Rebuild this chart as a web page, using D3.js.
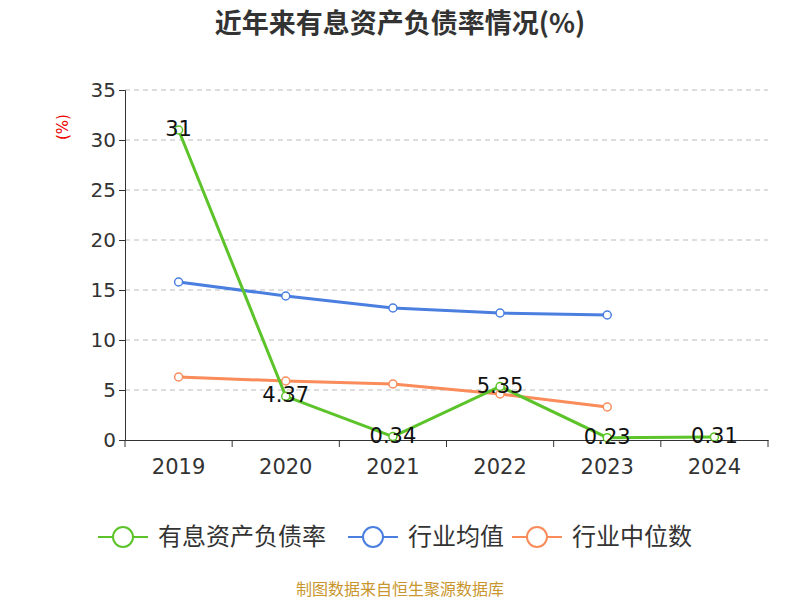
<!DOCTYPE html><html><head><meta charset="utf-8"><script src="https://cdn.jsdelivr.net/npm/d3@7"></script>
<style>body{margin:0;background:#fff}text{font-family:"DejaVu Sans","Noto Sans CJK SC",sans-serif}.cjk{font-family:"Noto Sans CJK SC",sans-serif}</style></head><body>
<svg id="c" width="800" height="600"></svg>
<script>
const categories=["2019","2020","2021","2022","2023","2024"];
const debtRatio=[31,4.37,0.34,5.35,0.23,0.31];
const industryAvg=[15.8,14.4,13.2,12.7,12.5];
const industryMedian=[6.3,5.9,5.6,4.6,3.3];
const yTicks=[0,5,10,15,20,25,30,35];
const svg=d3.select("#c");
const x=d3.scaleBand().domain(categories).range([125,768]);
const y=d3.scaleLinear().domain([0,35]).range([440,90]);
const cx=d=>x(d)+x.bandwidth()/2;
svg.append("text").attr("class","cjk").attr("x",400).attr("y",33).attr("text-anchor","middle").attr("font-size",27).attr("font-weight","bold").attr("fill","#333").text("近年来有息资产负债率情况(%)");
svg.append("text").attr("transform","translate(68,127) rotate(-90)").attr("text-anchor","middle").attr("font-size",15).attr("fill","#e00").text("(%)");
yTicks.forEach(t=>{if(t>0)svg.append("line").attr("x1",125).attr("x2",768).attr("y1",y(t)).attr("y2",y(t)).attr("stroke","#bbb").attr("stroke-dasharray","5,4");});
const ya=svg.append("g").attr("transform","translate(125,0)").call(d3.axisLeft(y).tickValues(yTicks).tickSize(6));
ya.selectAll("text").attr("font-size",20).attr("fill","#333").attr("font-family","DejaVu Sans");ya.select(".domain").attr("stroke","#333");ya.selectAll("line").attr("stroke","#333");
const xa=svg.append("g").attr("transform","translate(0,440)").call(d3.axisBottom(x).tickValues([]).tickSizeOuter(0));
xa.select(".domain").attr("stroke","#333");
categories.concat(["end"]).forEach((c,i)=>{const px=125+i*x.bandwidth();svg.append("line").attr("x1",px).attr("x2",px).attr("y1",440).attr("y2",447).attr("stroke","#333");});
categories.forEach(c=>svg.append("text").attr("x",cx(c)).attr("y",474).attr("text-anchor","middle").attr("font-size",21).attr("fill","#333").text(c));
function series(vals,color,labels){
 const pts=vals.map((v,i)=>[cx(categories[i]),y(v)]);
 svg.append("path").attr("d",d3.line()(pts)).attr("fill","none").attr("stroke",color).attr("stroke-width",3);
 pts.forEach(p=>svg.append("circle").attr("cx",p[0]).attr("cy",p[1]).attr("r",4).attr("fill","#fff").attr("stroke",color).attr("stroke-width",1.5));
 if(labels)pts.forEach((p,i)=>svg.append("text").attr("x",p[0]).attr("y",p[1]+6).attr("text-anchor","middle").attr("font-size",21).attr("fill","#111").text(vals[i]));
}
series(industryAvg,"#4a7fe0");
series(industryMedian,"#f98c5a");
series(debtRatio,"#5cc42a",true);
const leg=[["有息资产负债率","#5cc42a",98],["行业均值","#4a7fe0",348],["行业中位数","#f98c5a",512]];
leg.forEach(([t,c,lx])=>{svg.append("line").attr("x1",lx).attr("x2",lx+50).attr("y1",537).attr("y2",537).attr("stroke",c).attr("stroke-width",2);
svg.append("circle").attr("cx",lx+25).attr("cy",537).attr("r",10).attr("fill","#fff").attr("stroke",c).attr("stroke-width",2);
svg.append("text").attr("class","cjk").attr("x",lx+60).attr("y",545).attr("font-size",24).attr("fill","#333").text(t);});
svg.append("text").attr("class","cjk").attr("x",400).attr("y",595).attr("text-anchor","middle").attr("font-size",16).attr("fill","#c9962e").text("制图数据来自恒生聚源数据库");
</script></body></html>
